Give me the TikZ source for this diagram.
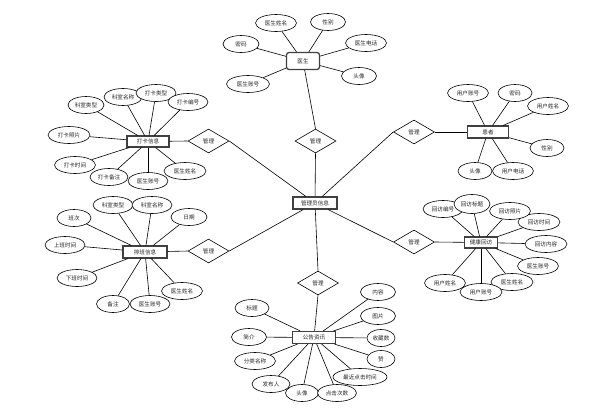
\documentclass[tikz,border=0pt]{standalone}
\usepackage{fontspec}
\newfontfamily\cjk{Noto Sans CJK SC}
\usetikzlibrary{shapes.geometric}
\tikzset{
  base/.style={font=\cjk\fontsize{5.6}{6.5}\selectfont, text=black!85},
  attr/.style={base, ellipse, draw=black, line width=0.6pt, fill=white, minimum height=17pt, inner sep=1pt},
  ent/.style={base, rectangle, draw=black!75, line width=1.1pt, fill=white, inner sep=0pt},
  rel/.style={base, diamond, draw=black, line width=0.6pt, fill=white, minimum width=41pt, minimum height=24pt, inner sep=0pt},
  link/.style={draw=black, line width=0.6pt}
}
\begin{document}
\begin{tikzpicture}[x=1pt,y=-1pt]
\useasboundingbox (0,0) rectangle (606,408);

% entities
\node[ent, rounded corners=2.5pt, line width=1.3pt, minimum width=33pt, minimum height=17pt] (doc) at (303,61) {医生};
\node[ent, minimum width=44pt, minimum height=12pt] (adm) at (315,203) {管理员信息};
\node[ent, minimum width=42pt, minimum height=11pt] (dk) at (148,141.5) {打卡信息};
\node[ent, minimum width=44pt, minimum height=12pt] (pb) at (145,252) {排班信息};
\node[ent, minimum width=41pt, minimum height=12pt] (hz) at (488,132) {患者};
\node[ent, minimum width=33pt, minimum height=11pt] (jk) at (481,242.5) {健康回访};
\node[ent, minimum width=43pt, minimum height=12pt] (gg) at (314,337.5) {公告资讯};

% relations
\node[rel] (rT) at (315.5,141) {管理};
\node[rel] (rUL) at (208.5,141) {管理};
\node[rel] (rLL) at (208.5,251) {管理};
\node[rel] (rUR) at (414,132) {管理};
\node[rel] (rLR) at (414,242) {管理};
\node[rel] (rB) at (318,283) {管理};

\draw[link] (doc) -- (rT.north);
\draw[link] (rT.south) -- (adm);
\draw[link] (adm) -- (rUL.east);
\draw[link] (rUL.west) -- (dk);
\draw[link] (adm) -- (rLL.east);
\draw[link] (rLL.west) -- (pb);
\draw[link] (adm) -- (rUR.west);
\draw[link] (rUR.east) -- (hz);
\draw[link] (adm) -- (rLR.west);
\draw[link] (rLR.east) -- (jk);
\draw[link] (adm) -- (rB.north);
\draw[link] (rB.south) -- (gg);

% doctor attributes
\node[attr, minimum width=41pt] (d1) at (276,23) {医生姓名};
\node[attr, minimum width=35pt] (d2) at (328,22) {性别};
\node[attr, minimum width=36pt] (d3) at (241,44) {密码};
\node[attr, minimum width=41pt] (d4) at (366,43) {医生电话};
\node[attr, minimum width=35pt] (d5) at (359,76) {头像};
\node[attr, minimum width=43pt] (d6) at (248,84) {医生账号};
\foreach \a in {d1,d2,d3,d4,d5,d6} \draw[link] (doc) -- (\a);

% clock-in attributes
\node[attr, minimum width=36pt] (k1) at (86,105) {科室类型};
\node[attr, minimum width=38pt] (k2) at (123,97) {科室名称};
\node[attr, minimum width=40pt] (k3) at (156,93) {打卡类型};
\node[attr, minimum width=40pt] (k4) at (188,102) {打卡编号};
\node[attr, minimum width=42pt] (k5) at (69,135) {打卡照片};
\node[attr, minimum width=41pt] (k6) at (75,165) {打卡时间};
\node[attr, minimum width=38pt] (k7) at (109,177) {打卡备注};
\node[attr, minimum width=42pt] (k9) at (185,171) {医生姓名};
\node[attr, minimum width=40pt] (k8) at (148,181) {医生账号};
\foreach \a in {k1,k2,k3,k4,k5,k6,k7,k8,k9} \draw[link] (dk) -- (\a);

% schedule attributes
\node[attr, minimum width=40pt] (p1) at (113,205) {科室类型};
\node[attr, minimum width=40pt] (p2) at (152,205) {科室名称};
\node[attr, minimum width=36pt] (p3) at (189,217) {日期};
\node[attr, minimum width=34pt] (p4) at (74,218) {班次};
\node[attr, minimum width=40pt] (p5) at (65,245) {上班时间};
\node[attr, minimum width=40pt] (p6) at (77,278) {下班时间};
\node[attr, minimum width=41pt] (p9) at (182,291) {医生姓名};
\node[attr, minimum width=33pt] (p7) at (113,304) {备注};
\node[attr, minimum width=40pt] (p8) at (150,304) {医生账号};
\foreach \a in {p1,p2,p3,p4,p5,p6,p7,p8,p9} \draw[link] (pb) -- (\a);

% patient attributes
\node[attr, minimum width=41pt] (h1) at (468,93) {用户账号};
\node[attr, minimum width=34pt] (h2) at (515,93) {密码};
\node[attr, minimum width=41pt] (h3) at (548,106) {用户姓名};
\node[attr, minimum width=34pt] (h4) at (547,148) {性别};
\node[attr, minimum width=34pt] (h5) at (475,171) {头像};
\node[attr, minimum width=41pt] (h6) at (513,171) {用户电话};
\foreach \a in {h1,h2,h3,h4,h5,h6} \draw[link] (hz) -- (\a);

% follow-up attributes
\node[attr, minimum width=40pt] (j1) at (443,209) {回访编号};
\node[attr, minimum width=42pt] (j4) at (539,222) {回访时间};
\node[attr, minimum width=41pt] (j3) at (510,211) {回访照片};
\node[attr, minimum width=36pt, minimum height=19pt] (j2) at (472,204) {回访标题};
\node[attr, minimum width=42pt] (j5) at (546,244) {回访内容};
\node[attr, minimum width=41pt] (j6) at (538,266) {医生账号};
\node[attr, minimum width=41pt] (j9) at (445,283) {用户姓名};
\node[attr, minimum width=42pt] (j7) at (512,282) {医生姓名};
\node[attr, minimum width=42pt] (j8) at (481,292) {用户账号};
\foreach \a in {j1,j2,j3,j4,j5,j6,j7,j8,j9} \draw[link] (jk) -- (\a);

% notice attributes
\node[attr, minimum width=34pt] (g1) at (252,308) {标题};
\node[attr, minimum width=35pt] (g2) at (249,337) {简介};
\node[attr, minimum width=41pt] (g3) at (255,361) {分类名称};
\node[attr, minimum width=38pt] (g4) at (271,384) {发布人};
\node[attr, minimum width=33pt] (g5) at (302,393) {头像};
\node[attr, minimum width=54pt] (g7) at (360,377) {最近点击时间};
\node[attr, minimum width=39pt] (g6) at (337,393) {点击次数};
\node[attr, minimum width=28pt] (g8) at (381,359) {赞};
\node[attr, minimum width=28pt] (g9) at (381,338) {收藏数};
\node[attr, minimum width=35pt] (g10) at (378,316) {图片};
\node[attr, minimum width=35pt] (g11) at (378,292) {内容};
\foreach \a in {g1,g2,g3,g4,g5,g6,g7,g8,g9,g10,g11} \draw[link] (gg) -- (\a);

\end{tikzpicture}
\end{document}
